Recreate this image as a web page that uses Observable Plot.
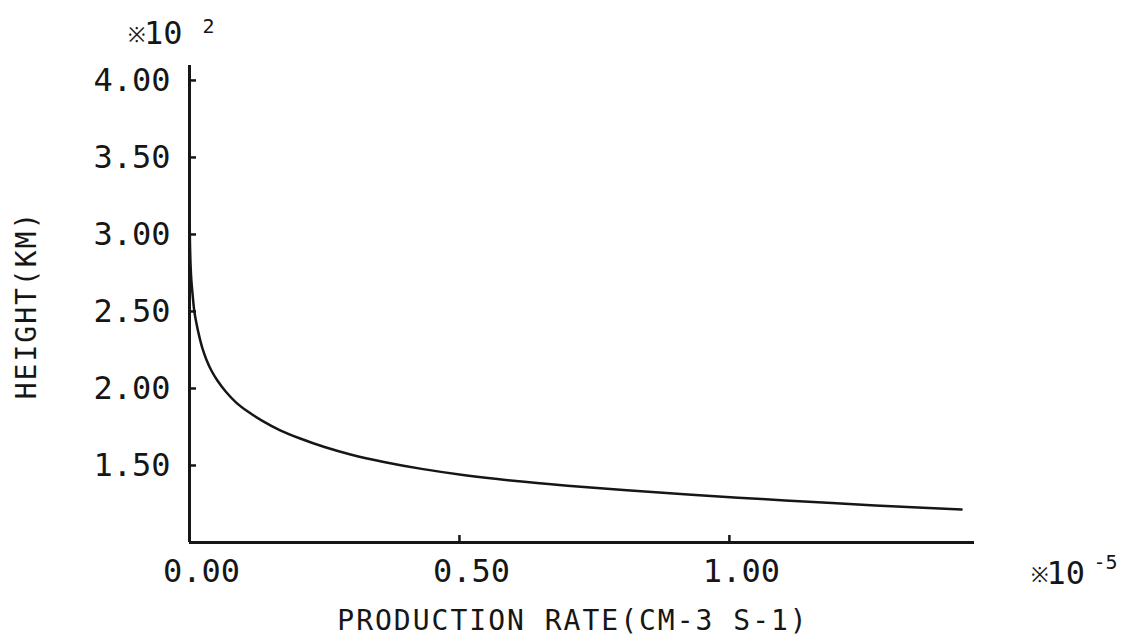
<!DOCTYPE html>
<html>
<head>
<meta charset="utf-8">
<script src="https://cdn.jsdelivr.net/npm/d3@7"></script>
<script src="https://cdn.jsdelivr.net/npm/@observablehq/plot@0.6"></script>
<style>
  html, body { margin: 0; padding: 0; background: #fff; }
  #chart svg { display: block; }
</style>
</head>
<body>
<div id="chart"></div>
<script>
// Production rate profile: rate in units of 1e-5 cm^-3 s^-1, height in units of 100 km
const productionRate = [0.0004, 0.001, 0.002, 0.0035, 0.006, 0.009, 0.013, 0.018, 0.024, 0.031,
  0.040, 0.052, 0.067, 0.086, 0.108, 0.135, 0.167, 0.205, 0.250, 0.300,
  0.360, 0.430, 0.51, 0.60, 0.70, 0.81, 0.93, 1.06, 1.19, 1.31, 1.43];
const heightKm100 = [3.05, 2.92, 2.80, 2.70, 2.60, 2.50, 2.42, 2.34, 2.26, 2.19,
  2.12, 2.05, 1.98, 1.91, 1.85, 1.79, 1.73, 1.675, 1.62, 1.570,
  1.523, 1.478, 1.437, 1.401, 1.369, 1.339, 1.310, 1.282, 1.256, 1.234, 1.215];

const xTicks = [0, 0.5, 1.0];
const yTicks = [1.5, 2.0, 2.5, 3.0, 3.5, 4.0];
const xTitle = "PRODUCTION RATE(CM-3 S-1)";
const yTitle = "HEIGHT(KM)";
// multiplier labels: mark, mantissa, exponent
const yMultiplier = ["※", "10", "2"];
const xMultiplier = ["※", "10", "-5"];

const profile = productionRate.map((x, i) => ({x, y: heightKm100[i]}));
const ink = "#161616";
const font = "'DejaVu Sans Mono', monospace";
const fmt = d3.format(".2f");

const W = 1131, H = 639;
const M = {left: 189, right: 157, top: 65, bottom: 97};
const tickLen = 7;
const frameW = W - M.left - M.right;
const frameH = H - M.top - M.bottom;

const chart = Plot.plot({
  width: W,
  height: H,
  marginLeft: M.left,
  marginRight: M.right,
  marginTop: M.top,
  marginBottom: M.bottom,
  x: {domain: [0, 1.454]},
  y: {domain: [1.0, 4.097]},
  style: {fontFamily: font, color: ink, background: "#fff"},
  marks: [
    // axis lines
    Plot.ruleX([0], {stroke: ink, strokeWidth: 3}),
    Plot.ruleY([1.0], {stroke: ink, strokeWidth: 3}),
    // short tick marks pointing into the frame
    Plot.tickY(yTicks, {y: d => d, insetRight: frameW - tickLen, stroke: ink, strokeWidth: 2.5}),
    Plot.tickX(xTicks, {x: d => d, insetTop: frameH - tickLen, stroke: ink, strokeWidth: 2.5}),
    // tick labels
    Plot.axisY(yTicks, {anchor: "left", tickSize: 0, tickPadding: 19, stroke: "none", fill: ink, fontSize: 32, tickFormat: fmt, label: null}),
    Plot.axisX(xTicks, {anchor: "bottom", tickSize: 0, tickPadding: 17, dx: 12, stroke: "none", fill: ink, fontSize: 32, tickFormat: fmt, label: null}),
    // axis titles
    Plot.text([yTitle], {frameAnchor: "left", text: d => d, rotate: -90, dx: -162, dy: 1, fontSize: 28, fill: ink, textAnchor: "middle", lineAnchor: "middle"}),
    Plot.text([xTitle], {frameAnchor: "bottom", text: d => d, dx: -9, dy: 87, fontSize: 28, fill: ink, textAnchor: "middle", lineAnchor: "bottom"}),
    // height multiplier, above the y axis
    Plot.text([yMultiplier[0]], {frameAnchor: "top-left", text: d => d, dx: -44, dy: -24, fontSize: 21, fill: ink, textAnchor: "end", lineAnchor: "bottom"}),
    Plot.text([yMultiplier[1]], {frameAnchor: "top-left", text: d => d, dx: -7, dy: -22, fontSize: 32, fill: ink, textAnchor: "end", lineAnchor: "bottom"}),
    Plot.text([yMultiplier[2]], {frameAnchor: "top-left", text: d => d, dx: 13, dy: -33, fontSize: 20, fill: ink, textAnchor: "start", lineAnchor: "bottom"}),
    // rate multiplier, right of the x axis
    Plot.text([xMultiplier[0]], {frameAnchor: "bottom-right", text: d => d, dx: 56, dy: 39, fontSize: 21, fill: ink, textAnchor: "start", lineAnchor: "bottom"}),
    Plot.text([xMultiplier[1]], {frameAnchor: "bottom-right", text: d => d, dx: 72, dy: 41, fontSize: 32, fill: ink, textAnchor: "start", lineAnchor: "bottom"}),
    Plot.text([xMultiplier[2]], {frameAnchor: "bottom-right", text: d => d, dx: 119, dy: 26, fontSize: 20, fill: ink, textAnchor: "start", lineAnchor: "bottom"}),
    // profile curve
    Plot.line(profile, {x: "x", y: "y", curve: "catmull-rom", stroke: ink, strokeWidth: 2.5})
  ]
});

// wide letter spacing for the axis titles
d3.select(chart).selectAll("text")
  .filter(function () { return this.textContent === xTitle || this.textContent === yTitle; })
  .attr("letter-spacing", "2px");

document.getElementById("chart").appendChild(chart);
</script>
</body>
</html>
